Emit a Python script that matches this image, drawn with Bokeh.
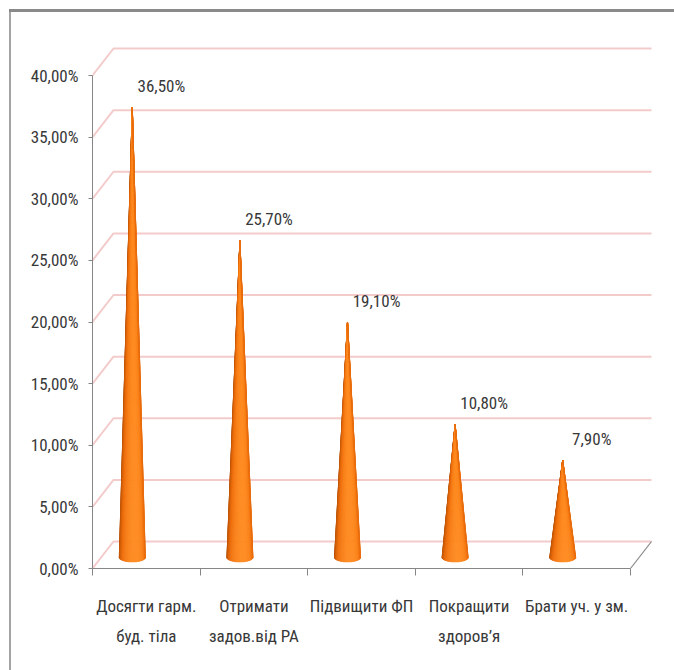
import numpy as np
from bokeh.plotting import figure
from bokeh.models import Range1d, LinearAxis, FixedTicker
from bokeh.core.properties import value
from bokeh.embed import file_html
from bokeh.resources import INLINE

# --- data -------------------------------------------------------------
categories = [
    "Досягти гарм.\nбуд. тіла",
    "Отримати\nзадов.від РА",
    "Підвищити ФП",
    "Покращити\nздоров’я",
    "Брати уч. у зм.",
]
shares = [36.5, 25.7, 19.1, 10.8, 7.9]
share_labels = ["36,50%", "25,70%", "19,10%", "10,80%", "7,90%"]
y_ticks = [0, 5, 10, 15, 20, 25, 30, 35, 40]
y_tick_labels = ["0,00%", "5,00%", "10,00%", "15,00%", "20,00%",
                 "25,00%", "30,00%", "35,00%", "40,00%"]

# --- layout ------------------------------------------------------------
W, H = 674, 670
B_LEFT, B_RIGHT, B_TOP, B_BOTTOM = 92, 14, 30, 102
PX_X = 107.6      # pixels per category
PX_Y = 12.325     # pixels per percent
x_end = (W - B_LEFT - B_RIGHT) / PX_X
y_end = (H - B_TOP - B_BOTTOM) / PX_Y

FONT_NAME = ("'Roboto Condensed', 'Noto Sans Condensed', 'Liberation Sans Narrow', "
             "'DejaVu Sans Condensed', sans-serif")
FONT = value(FONT_NAME)
FONT_SIZE = "17px"
TEXT_COLOR = "#383838"
AXIS_COLOR = "#868686"
GRID_COLOR = "#f3cbcb"

p = figure(width=W, height=H, x_range=Range1d(0, x_end), y_range=Range1d(0, y_end),
           output_backend="svg", toolbar_location=None,
           x_axis_type=None, y_axis_type=None,
           min_border_left=B_LEFT, min_border_right=B_RIGHT,
           min_border_top=B_TOP, min_border_bottom=B_BOTTOM)
p.outline_line_color = None
p.background_fill_color = "white"
p.border_fill_alpha = 0

# grey frame edges (top and left) of the chart area, painted behind the canvas
p.styles = {
    "background-color": "white",
    "background-image": "linear-gradient(#8a8a8a, #8a8a8a), linear-gradient(#a3a3a3, #a3a3a3)",
    "background-size": "665px 3px, 2px 661px",
    "background-position": "9px 9px, 9px 9px",
    "background-repeat": "no-repeat",
}

# depth offset of the 3D walls (in data units)
DX = 21 / PX_X
DY = 27 / PX_Y
n_cat = len(categories)

# back wall gridlines with their left-wall diagonals
grid_xs = [[0, DX, n_cat + DX] for _ in y_ticks]
grid_ys = [[t, t + DY, t + DY] for t in y_ticks]
p.multi_line(grid_xs, grid_ys, line_color=GRID_COLOR, line_width=2)
# right edge of the floor
p.line([n_cat, n_cat + DX], [0, DY], line_color=AXIS_COLOR, line_width=1.2)

# --- shaded cones -------------------------------------------------------
STOPS = [(0.0, (176, 76, 4)), (0.55, (240, 112, 14)), (1.0, (255, 140, 34))]

def cone_color(s):
    for (s0, c0), (s1, c1) in zip(STOPS[:-1], STOPS[1:]):
        if s <= s1:
            f = (s - s0) / (s1 - s0)
            c = [a + (b - a) * f for a, b in zip(c0, c1)]
            return "#%02x%02x%02x" % tuple(int(round(v)) for v in c)
    return "#%02x%02x%02x" % STOPS[-1][1]

R = 13 / PX_X          # base half-width
B = 4.5 / PX_Y         # base ellipse half-height
BASE = 11 / PX_Y       # base centre above the front floor edge
OFF = 0.37             # cone centre inside its category

xs, ys, colors = [], [], []
n = 48
th = np.linspace(np.pi, 2 * np.pi, n + 1)
for i, v in enumerate(shares):
    cx = i + OFF
    ax_, ay_ = cx, BASE + v
    for k in range(n):
        t0, t1 = th[k], th[k + 1]
        xs.append([ax_, cx + R * np.cos(t0), cx + R * np.cos(t1)])
        ys.append([ay_, BASE + B * np.sin(t0), BASE + B * np.sin(t1)])
        tm = 0.5 * (t0 + t1)
        s = max(0.0, np.cos(0.8 * (tm - 1.6 * np.pi)))
        colors.append(cone_color(s ** 1.3))
p.patches(xs, ys, fill_color=colors, line_color=colors, line_width=0.6)

# value labels
p.text(x=[i + OFF + 0.27 for i in range(n_cat)], y=[v + BASE + 1.75 for v in shares],
       text=share_labels, text_align="center", text_baseline="middle",
       text_font=FONT, text_font_size=FONT_SIZE, text_color=TEXT_COLOR)

# --- axes ---------------------------------------------------------------
yax = LinearAxis(ticker=FixedTicker(ticks=y_ticks), bounds=(0, 40))
yax.major_label_overrides = {t: l for t, l in zip(y_ticks, y_tick_labels)}
yax.axis_line_color = AXIS_COLOR
yax.major_tick_line_color = AXIS_COLOR
yax.minor_tick_line_color = None
yax.major_tick_in = 0
yax.major_tick_out = 4
yax.major_label_standoff = 10
yax.major_label_text_font = FONT_NAME
yax.major_label_text_font_size = FONT_SIZE
yax.major_label_text_color = TEXT_COLOR
p.add_layout(yax, "left")

xax = LinearAxis(ticker=FixedTicker(ticks=[i + 0.5 for i in range(n_cat)],
                                    minor_ticks=list(range(n_cat + 1))),
                 bounds=(0, n_cat))
xax.major_label_overrides = {i + 0.5: c for i, c in enumerate(categories)}
xax.axis_line_color = AXIS_COLOR
xax.major_tick_line_color = None
xax.major_tick_in = 0
xax.major_tick_out = 0
xax.minor_tick_line_color = AXIS_COLOR
xax.minor_tick_in = 0
xax.minor_tick_out = 7
xax.major_label_standoff = 20
xax.major_label_text_font = FONT_NAME
xax.major_label_text_font_size = FONT_SIZE
xax.major_label_text_color = TEXT_COLOR
xax.major_label_text_line_height = 1.5
p.add_layout(xax, "below")

open("out.html", "w").write(file_html(p, INLINE))
